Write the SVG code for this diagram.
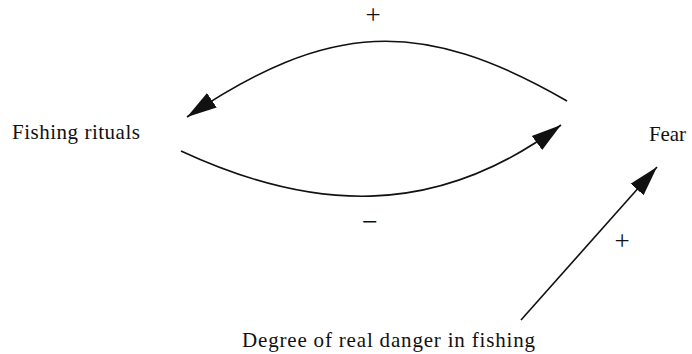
<svg xmlns="http://www.w3.org/2000/svg" width="692" height="354" viewBox="0 0 692 354">
<style>
.lbl{font-family:"Liberation Serif","Times New Roman",serif;font-size:21px;fill:#111}
.sgn{font-family:"Liberation Serif","Times New Roman",serif;fill:#111;text-anchor:middle}
.edge{fill:none;stroke:#111;stroke-width:1.6}
</style>
<defs>
<marker id="ah" markerUnits="userSpaceOnUse" markerWidth="30" markerHeight="20" viewBox="0 0 26 15" refX="26" refY="7.5" orient="auto">
<path d="M0,0 L26,7.5 L0,15 Z" fill="#111"/>
</marker>
</defs>
<rect width="692" height="354" fill="#fff"/>
<g id="connectors">
<path class="edge" d="M567,101 C420,16 328,22 187,117" marker-end="url(#ah)"/>
<path class="edge" d="M181,151 C308,210 433,221 561,125" marker-end="url(#ah)"/>
<path class="edge" d="M521,320 L657,167" marker-end="url(#ah)"/>
<text class="sgn" x="373" y="24" font-size="27">+</text>
<text class="sgn" x="370" y="231" font-size="28">−</text>
<text class="sgn" x="622" y="250" font-size="27">+</text>
</g>
<g id="fishing-rituals"><text class="lbl" x="12" y="139" textLength="128">Fishing rituals</text></g>
<g id="fear"><text class="lbl" x="649" y="141" textLength="37">Fear</text></g>
<g id="danger"><text class="lbl" x="242" y="347" textLength="293">Degree of real danger in fishing</text></g>
</svg>
